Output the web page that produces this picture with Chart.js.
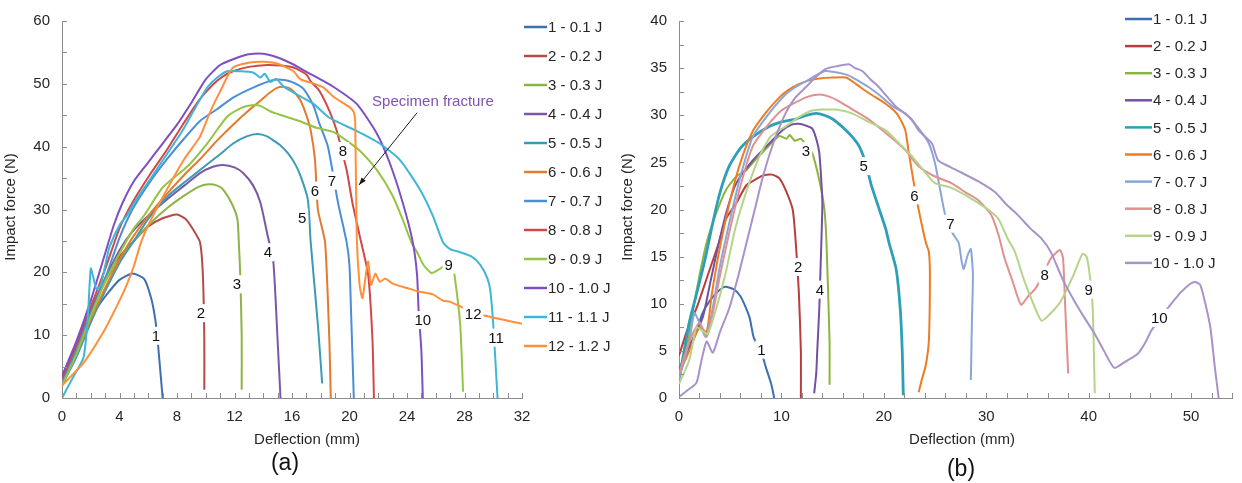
<!DOCTYPE html>
<html>
<head>
<meta charset="utf-8">
<script src="https://cdn.jsdelivr.net/npm/chart.js@4.4.0/dist/chart.umd.min.js"></script>
<style>
html, body { margin: 0; padding: 0; background: #fff; }
#caixaA { position: absolute; left: 0; top: 0; width: 620px; height: 483px; }
#caixaB { position: absolute; left: 620px; top: 0; width: 622px; height: 483px; }
</style>
</head>
<body>
<div id="caixaA"><canvas id="graficoA" width="620" height="483"></canvas></div>
<div id="caixaB"><canvas id="graficoB" width="622" height="483"></canvas></div>
<script>
// (a) - deflection (mm) x impact force (N)
const nomesA = ['1 - 0.1 J', '2 - 0.2 J', '3 - 0.3 J', '4 - 0.4 J', '5 - 0.5 J', '6 - 0.6 J',
    '7 - 0.7 J', '8 - 0.8 J', '9 - 0.9 J', '10 - 1.0 J', '11 - 1.1 J', '12 - 1.2 J'];
const coresA = ['#3F6FAE', '#B44B48', '#8EB447', '#7B58A6', '#3A9CB4', '#E37A2C',
    '#4A8FD6', '#D04848', '#93C543', '#7E4FC0', '#3DB6D8', '#FF8F3A'];

const curvaA1 = [[0,3],[0.5,5.5],[1,8],[1.5,10.5],[2,12.7],[2.6,14.9],[3.3,17],[4,18.8],[4.9,19.8],[5.7,19],[6.2,15.9],[6.5,12.3],[6.7,8],[7.0,0]];
const curvaA2 = [[0,2.5],[1,7.5],[2,13.5],[3,19],[4,22.5],[5,25],[6,27.3],[7,28.6],[8,29.2],[8.6,28.5],[9.1,26.9],[9.6,24.8],[9.8,19.6],[9.9,9.1],[9.9,1.3]];
const curvaA3 = [[0,2],[1,7.5],[2,13.5],[3,18.5],[4,22],[5,25],[6,27.5],[7.3,30.2],[8.5,32.2],[9.5,33.6],[10.2,34],[10.8,33.8],[11.2,33.2],[11.8,31],[12.2,28.5],[12.3,24.8],[12.4,19.6],[12.5,10],[12.5,1.3]];
const curvaA4 = [[0,3.5],[1,8.5],[2,14],[3,19],[4,23.5],[4.9,26.5],[6,29],[7.3,31.6],[8.5,33.8],[9.6,35.8],[10.5,36.8],[11.2,37.1],[12,36.7],[12.6,35.8],[13.3,33.8],[13.8,31.1],[14.3,25.9],[14.7,21.7],[15,9.1],[15.2,0]];
const curvaA5 = [[0,2],[1,6.5],[2,12],[3,17],[4,21.5],[5,25],[6,28.5],[7.3,32],[8.5,34.3],[9.6,36.3],[11,38.8],[11.9,40.5],[12.8,41.6],[13.6,42],[14.3,41.6],[14.7,41],[15.2,40.2],[15.7,39],[16.2,37.3],[16.6,35.3],[17.1,31.6],[17.3,24.8],[17.8,11.7],[18.1,2.3]];
const curvaA6 = [[0,2.5],[1,7],[2,12.5],[3,17.5],[4,22],[4.9,25.5],[6,29],[7.3,32.5],[8.5,35.5],[9.6,38],[10.8,41],[11.9,43.5],[13,45.8],[13.8,47.3],[14.4,48.5],[15,49.4],[15.5,49.5],[15.9,49.2],[16.3,48.3],[16.6,47.3],[17,45],[17.3,42.6],[17.6,37.9],[17.8,30],[18.3,24.8],[18.6,9.1],[18.7,0]];
const curvaA7 = [[0,2.5],[1,7.5],[2,13.5],[3,19],[4,25.5],[4.9,30],[6,34],[7.3,38],[8.5,41.3],[9.6,44.1],[10.8,46],[11.9,47.8],[13.3,49.4],[14.7,50.6],[15.5,50.6],[16.1,50.2],[16.8,49.2],[17.5,46.5],[17.9,43.7],[18.5,40],[19.2,31.1],[19.8,24.8],[20,21],[20.1,14.3],[20.3,0]];
const curvaA8 = [[0,3],[1,8.5],[2,14.5],[3,20.5],[4,27],[5,31.5],[6.1,35.5],[7.3,39.5],[8.4,43.5],[9.5,47.3],[10.5,49.9],[11.2,51.2],[11.9,52],[13,52.7],[14.3,53],[15.2,52.9],[16.1,52.6],[17,51.5],[17.3,50.4],[17.9,48.9],[18.6,45.7],[19.1,42.6],[19.8,36.3],[20.2,31.1],[20.7,25.9],[21.3,19.6],[21.6,9.1],[21.7,0]];
const curvaA9 = [[0,2],[1,7],[2,13],[3,18.5],[4,23],[5,27],[5.7,29],[7,33.5],[8.7,36.8],[10.1,40.5],[11.5,44.8],[12.6,46.3],[13.2,46.6],[13.8,46.5],[14.5,45.6],[15,45.2],[16.6,44],[17.7,43],[18.9,42.3],[20.7,39.4],[21.9,36.3],[23,32.2],[23.7,28.4],[24.3,24.8],[24.7,23.2],[25.2,21],[25.7,19.9],[26.1,20.3],[26.5,20.9],[26.8,22],[27.1,21.5],[27.3,19.6],[27.7,11.7],[27.9,1]];
const curvaA10 = [[0,3.5],[1,9],[2,15.5],[3,23],[3.6,27.5],[4.2,31],[5,34.5],[6,37.5],[7,40.5],[8,43.5],[9,47],[10,50.7],[11,53],[12,54],[13,54.7],[14,54.8],[15,54.2],[16,53.2],[16.7,52.3],[17.5,51.3],[18.9,49.5],[20.5,46.8],[21.9,42.1],[22.8,37.4],[23.7,31.1],[24.4,24.8],[24.7,19.6],[24.8,14.3],[25,7.5],[25.1,0]];
const curvaA11 = [[0,0],[0.7,3],[1.5,6.5],[1.8,13],[2,20.6],[2.2,19],[2.4,17.3],[2.7,18],[3,21],[3.3,24],[4,27.5],[4.5,29],[5,31],[6.1,34.7],[7,37.8],[8.4,42.6],[9.3,46.3],[10.1,49.4],[10.8,51],[11.5,52],[12.4,52],[13.3,51.8],[13.8,51],[14.1,51.6],[14.5,50.3],[14.9,50.8],[15.4,49.6],[16.2,48.5],[17.5,46.8],[18.6,44.6],[20.4,42.6],[22.1,40.5],[23.5,37.9],[24.9,33.2],[25.8,29],[26.5,24.8],[27,23.7],[27.7,23.2],[28.5,22.5],[29.1,21.2],[29.6,19],[29.8,17],[30,11.7],[30.2,3.9],[30.3,0]];
const curvaA12 = [[0,2],[1.5,5.6],[3,11],[4,15.5],[4.5,18],[5,21],[5.5,24.8],[6,27.5],[7.3,33.2],[8.5,38],[9.6,41.6],[10.3,45.5],[11,48.8],[11.9,52.6],[13.1,53.4],[14,53.5],[15,53.2],[16.1,52],[16.6,50.7],[17.3,50.2],[18.2,49.4],[18.9,47.9],[20,46.3],[20.3,45.5],[20.4,43.7],[20.5,25.9],[20.7,18],[20.9,15.9],[21.1,19],[21.3,21.7],[21.5,18],[21.8,19.8],[22.1,18.5],[22.5,19],[23,18.2],[24,17.5],[24.7,17],[25.8,16.5],[26.5,15.5],[27,15.3],[27.7,14.6],[28.6,13.6],[29.8,12.9],[31,12.3],[32,11.8]];
const curvasA = [curvaA1, curvaA2, curvaA3, curvaA4, curvaA5, curvaA6, curvaA7, curvaA8, curvaA9, curvaA10, curvaA11, curvaA12];
const rotulosA = [['1',6.54,9.9],['2',9.67,13.5],['3',12.17,18.1],['4',14.33,23.2],['5',16.7,28.7],['6',17.6,33],
    ['7',18.78,34.6],['8',19.55,39.3],['9',26.9,21.2],['10',25.1,12.4],['11',30.2,9.6],['12',28.6,13.4]];

// (b)
const nomesB = ['1 - 0.1 J', '2 - 0.2 J', '3 - 0.3 J', '4 - 0.4 J', '5 - 0.5 J',
    '6 - 0.6 J', '7 - 0.7 J', '8 - 0.8 J', '9 - 0.9 J', '10 - 1.0 J'];
const coresB = ['#3D6EB0', '#B63F3D', '#8CB53F', '#7550A2', '#2E9FB9',
    '#EE7C21', '#8AA6D8', '#E0908F', '#B5D48A', '#A893C9'];

const curvaB1 = [[0,2.5],[0.7,4.5],[1.5,6.5],[2.3,9],[3,10.3],[3.8,11.3],[4.5,11.8],[5.4,11.5],[6,10.8],[6.4,9.9],[6.9,8.5],[7.3,6.4],[8.0,5],[8.5,3.2],[9,1.5],[9.3,0]];
const curvaB2 = [[0,4.5],[0.8,7.2],[1.7,9.5],[2.8,13],[3.9,16.5],[4.6,19],[5.6,20.7],[6.6,22.6],[7.5,23.2],[8.2,23.6],[9.1,23.7],[9.8,23.3],[10.4,22.1],[11.1,20],[11.4,16.5],[11.7,11.3],[11.9,5],[11.9,0]];
const curvaB3 = [[0,2.5],[0.7,5],[1.4,9.5],[2,13],[2.7,16.5],[3.6,19.5],[4.6,22.1],[5.6,23.5],[6.6,24.2],[7.4,25.2],[8.2,26.1],[9,27],[9.8,27.8],[10.5,27.5],[10.8,27.9],[11.3,27.3],[11.9,27.5],[12.3,27],[13,26],[13.7,23.1],[14.2,20],[14.4,16.5],[14.7,6.1],[14.7,1.4]];
const curvaB4 = [[0,3],[1,5.5],[2.3,8.5],[3.1,12.5],[3.9,16.5],[4.7,20],[5.6,22.8],[7.2,25.2],[8.8,27],[10.1,28.4],[11,29],[11.7,29.1],[12.4,28.9],[13,28.6],[13.4,27.5],[13.7,26],[13.9,23],[14,20.7],[13.9,16.5],[13.8,13],[13.7,9.5],[13.5,5],[13.4,2.6],[13.2,0.5]];
const curvaB5 = [[0,1.9],[0.5,5],[1,8],[1.7,11],[2.5,14.5],[3.3,18.6],[4,21.8],[4.9,24.6],[6,26.5],[7.2,27.7],[8.8,28.8],[10,29.3],[11.4,29.6],[12.5,30],[13.4,30.2],[14.2,30],[15,29.6],[15.7,29],[16.3,28.4],[17,27.6],[17.6,26.7],[18.2,25],[18.8,22.5],[19.5,20.2],[20.2,17.9],[20.5,16.5],[21.2,13.7],[21.6,9.5],[21.8,5],[21.9,0.3]];
const curvaB6 = [[0,2.5],[1,5],[2,7.5],[2.7,7],[3.2,11],[4,16],[5,21],[6,25],[7.2,28.3],[8.5,30.3],[9.8,31.9],[10.7,32.7],[11.7,33.3],[12.7,33.7],[13.7,33.9],[15,34],[16.3,34],[17.3,33.3],[18.2,32.6],[19.2,31.9],[20.2,31.2],[21,30.5],[21.5,29.8],[22.1,28.4],[22.4,26.3],[22.9,23],[23.4,20],[24.1,16.5],[24.4,15.5],[24.5,13.1],[24.4,6.1],[24.1,3.5],[23.7,1.9],[23.4,0.6]];
const curvaB7 = [[0,2],[1,6],[1.5,9],[2,8],[2.6,6.5],[3.2,9],[4,14],[5,19],[6,23.5],[7.2,27.7],[8.8,30.2],[10.4,32.2],[11.4,33],[12.4,33.6],[13.3,34.2],[14.3,34.7],[15.6,34.5],[16.6,34.2],[17.6,33.6],[18.5,33],[19.5,32.2],[20.8,31],[22.1,30.2],[23.4,28.6],[24.4,27],[25,24.9],[25.5,22.1],[26,19.4],[26.7,17.5],[27.3,16.5],[27.6,14.5],[27.8,13.7],[28.2,15.2],[28.5,15.8],[28.7,13.1],[28.6,8],[28.5,1.9]];
const curvaB8 = [[0,2.5],[1,6],[2,8],[2.7,6.5],[3.3,9],[4,13],[5,18],[6,22.5],[7.2,26.7],[8.8,29.1],[10,30.5],[11.1,31.2],[12.4,31.9],[13.7,32.2],[14.6,32],[15.6,31.5],[16.8,30.7],[18.2,29.8],[19.2,29],[20.2,28.1],[21.2,27.2],[22.1,26.3],[23.4,24.6],[25,23.5],[26.6,22.8],[28,21.8],[29.2,21],[30.5,19.4],[31.2,17.3],[31.8,14.8],[32.6,12.3],[33.4,9.9],[34.1,10.8],[34.8,11.6],[35.5,13],[36.3,14.8],[37.2,15.7],[37.5,14.8],[37.7,10],[38,2.6]];
const curvaB9 = [[0,1.5],[1,4],[1.7,7.5],[2.3,7.1],[2.8,6.8],[3.5,9],[4.5,13],[5.5,18],[6.6,22],[8,26],[9,27.8],[10.4,28.8],[11.7,29.8],[13,30.5],[14,30.6],[15.3,30.6],[16.9,30.2],[18.5,29.3],[20.2,28.4],[21.5,27],[22.7,25.7],[24,24],[25,22.8],[26.6,22.3],[28,21.5],[29.2,20.7],[30.3,19.9],[31.2,19],[32.1,16.9],[32.8,15.5],[33.7,12.5],[34.6,10],[35.4,8.2],[36.3,9],[37.3,10.3],[38.5,13],[39.4,15.3],[39.8,15],[40.1,13.1],[40.4,9.5],[40.6,0.5]];
const curvaB10 = [[0,0.1],[0.8,0.8],[1.7,1.6],[2.2,4],[2.7,6],[3.3,4.8],[4,7],[4.9,9.5],[5.8,13],[6.6,16.5],[7.4,20],[8.2,23.5],[9.2,27],[10.4,30.2],[11.3,31.8],[12.4,33],[13.3,34],[14.3,34.9],[15.4,35.2],[16.6,35.4],[17.2,35],[17.9,34.7],[18.7,33.8],[19.5,33],[20.3,32],[21.2,30.9],[22.7,29.6],[23.4,28.4],[24.7,27],[25.3,25.2],[26.5,24.5],[27.6,23.9],[29.2,23],[30.9,21.8],[32,20.5],[33.1,19.4],[34.3,18],[35.4,16.9],[36.3,15.5],[37.5,12.5],[38.6,10.3],[39.6,8.5],[40.6,6.8],[41.5,5],[42.5,3.2],[43.5,3.8],[44.8,4.7],[45.5,5.8],[46.1,7.1],[47,8.5],[48,9.9],[49,11.2],[49.9,12.1],[50.4,12.3],[50.9,12],[51.4,10],[51.9,7.4],[52.3,3.5],[52.7,0]];
const curvasB = [curvaB1, curvaB2, curvaB3, curvaB4, curvaB5, curvaB6, curvaB7, curvaB8, curvaB9, curvaB10];
const rotulosB = [['1',8.04,5.13],['2',11.63,13.9],['3',12.4,26.2],['4',13.77,11.5],['5',18.04,24.6],
    ['6',23.0,21.5],['7',26.5,18.5],['8',35.7,13.1],['9',40.0,11.5],['10',46.9,8.5]];

const fonte = '"Liberation Sans", Arial, sans-serif';
const corTexto = '#262626';
const corEixo = '#8c8c8c';

// tick marks pointing into the plot
const tiquesInternos = {
    id: 'tiquesInternos',
    afterDraw(chart) {
        const ctx = chart.ctx;
        const { x, y } = chart.scales;
        ctx.save();
        ctx.strokeStyle = corEixo;
        ctx.lineWidth = 1;
        ctx.beginPath();
        x.ticks.forEach(t => {
            const px = Math.round(x.getPixelForValue(t.value)) + 0.5;
            ctx.moveTo(px, x.top);
            ctx.lineTo(px, x.top - 5);
        });
        y.ticks.forEach(t => {
            const py = Math.round(y.getPixelForValue(t.value)) + 0.5;
            ctx.moveTo(y.right, py);
            ctx.lineTo(y.right + 5, py);
        });
        ctx.stroke();
        ctx.restore();
    }
};

// numbers on the curves, white box behind
function pluginRotulos(rotulos) {
    return {
        id: 'rotulos',
        afterDatasetsDraw(chart) {
            const ctx = chart.ctx;
            const { x, y } = chart.scales;
            ctx.save();
            ctx.font = '15px ' + fonte;
            ctx.textAlign = 'center';
            ctx.textBaseline = 'middle';
            rotulos.forEach(([t, vx, vy]) => {
                const px = x.getPixelForValue(vx);
                const py = y.getPixelForValue(vy);
                const w = ctx.measureText(t).width + 4;
                ctx.fillStyle = '#fff';
                ctx.fillRect(px - w / 2, py - 9, w, 18);
                ctx.fillStyle = '#111';
                ctx.fillText(t, px, py + 1);
            });
            ctx.restore();
        }
    };
}

// legend, axis titles and panel letter
function pluginTextos(cfg) {
    return {
        id: 'textos',
        afterDraw(chart) {
            const ctx = chart.ctx;
            ctx.save();
            ctx.font = '15px ' + fonte;
            ctx.textBaseline = 'middle';
            chart.data.datasets.forEach((ds, i) => {
                const ly = cfg.legY + i * cfg.legPasso;
                ctx.strokeStyle = ds.borderColor;
                ctx.lineWidth = 2.5;
                ctx.beginPath();
                ctx.moveTo(cfg.legX, ly);
                ctx.lineTo(cfg.legX + cfg.legComp, ly);
                ctx.stroke();
                ctx.fillStyle = corTexto;
                ctx.textAlign = 'left';
                ctx.fillText(ds.label, cfg.legX + cfg.legComp + 1, ly + 1);
            });
            ctx.textAlign = 'center';
            ctx.fillStyle = corTexto;
            ctx.fillText('Deflection (mm)', cfg.tituloX[0], cfg.tituloX[1]);
            ctx.save();
            ctx.translate(cfg.tituloY[0], cfg.tituloY[1]);
            ctx.rotate(-Math.PI / 2);
            ctx.fillText('Impact force (N)', 0, 0);
            ctx.restore();
            ctx.font = '23px ' + fonte;
            ctx.fillStyle = '#111';
            ctx.fillText(cfg.letra, cfg.letraPos[0], cfg.letraPos[1]);
            ctx.restore();
        }
    };
}

// "Specimen fracture" with arrow, panel (a)
const fratura = {
    id: 'fratura',
    afterDatasetsDraw(chart) {
        const ctx = chart.ctx;
        const { x, y } = chart.scales;
        ctx.save();
        ctx.font = '15px ' + fonte;
        ctx.fillStyle = '#7F52B4';
        ctx.textAlign = 'left';
        ctx.textBaseline = 'middle';
        ctx.fillText('Specimen fracture', x.getPixelForValue(21.57), y.getPixelForValue(47.1));
        const x1 = x.getPixelForValue(24.7), y1 = y.getPixelForValue(45.4);
        const x2 = x.getPixelForValue(20.66), y2 = y.getPixelForValue(33.9);
        ctx.strokeStyle = '#1a1a1a';
        ctx.fillStyle = '#1a1a1a';
        ctx.lineWidth = 1;
        ctx.beginPath();
        ctx.moveTo(x1, y1);
        ctx.lineTo(x2, y2);
        ctx.stroke();
        const ang = Math.atan2(y2 - y1, x2 - x1);
        ctx.beginPath();
        ctx.moveTo(x2, y2);
        ctx.lineTo(x2 - 8 * Math.cos(ang - 0.35), y2 - 8 * Math.sin(ang - 0.35));
        ctx.lineTo(x2 - 8 * Math.cos(ang + 0.35), y2 - 8 * Math.sin(ang + 0.35));
        ctx.closePath();
        ctx.fill();
        ctx.restore();
    }
};

function montaGrafico(canvas, curvas, nomes, cores, eixos, extras) {
    const n = curvas.length;
    return new Chart(canvas, {
        type: 'line',
        data: {
            datasets: curvas.map((c, i) => ({
                label: nomes[i],
                data: c.map(([vx, vy]) => ({ x: vx, y: vy })),
                borderColor: cores[i],
                borderWidth: eixos.larguras ? eixos.larguras[i] : 2,
                pointRadius: 0,
                tension: 0.2,
                fill: false,
                order: n - i
            }))
        },
        options: {
            responsive: false,
            animation: false,
            devicePixelRatio: 1,
            layout: { padding: eixos.padding },
            plugins: { legend: { display: false }, tooltip: { enabled: false } },
            scales: {
                x: {
                    type: 'linear',
                    min: 0,
                    max: eixos.xMax,
                    grid: { display: false, drawTicks: false },
                    border: { color: corEixo, width: 1 },
                    ticks: {
                        stepSize: eixos.xPasso,
                        autoSkip: false,
                        maxRotation: 0,
                        padding: 10,
                        color: corTexto,
                        font: { family: fonte, size: 15 },
                        callback: v => (v % eixos.xRotulo === 0 ? v : '')
                    },
                    afterFit: s => { s.height = 85; }
                },
                y: {
                    min: 0,
                    max: eixos.yMax,
                    grid: { display: false, drawTicks: false },
                    border: { color: corEixo, width: 1 },
                    ticks: {
                        stepSize: eixos.yPasso,
                        autoSkip: false,
                        padding: 12,
                        color: corTexto,
                        font: { family: fonte, size: 15 },
                        callback: v => (v % eixos.yRotulo === 0 ? v : '')
                    },
                    afterFit: s => { s.width = eixos.yLargura; }
                }
            }
        },
        plugins: [tiquesInternos].concat(extras)
    });
}

const graficoA = montaGrafico(document.getElementById('graficoA'), curvasA, nomesA, coresA, {
    xMax: 32, xPasso: 1, xRotulo: 4,
    yMax: 60, yPasso: 5, yRotulo: 10,
    yLargura: 62,
    padding: { left: 0, top: 16, right: 98, bottom: 0 }
}, [pluginRotulos(rotulosA), fratura, pluginTextos({
    legX: 524, legY: 27, legPasso: 29, legComp: 23,
    tituloX: [307, 440], tituloY: [11, 207],
    letra: '(a)', letraPos: [285, 464]
})]);

const graficoB = montaGrafico(document.getElementById('graficoB'), curvasB, nomesB, coresB, {
    xMax: 54, xPasso: 2, xRotulo: 10,
    yMax: 40, yPasso: 2.5, yRotulo: 5,
    yLargura: 59,
    larguras: [2, 2, 2, 2, 2.8, 2, 2, 2, 2, 2],
    padding: { left: 0, top: 16, right: 7, bottom: 0 }
}, [pluginRotulos(rotulosB), pluginTextos({
    legX: 505, legY: 19, legPasso: 27.1, legComp: 27,
    tituloX: [342, 440], tituloY: [8, 207],
    letra: '(b)', letraPos: [341, 470]
})]);
</script>
</body>
</html>
